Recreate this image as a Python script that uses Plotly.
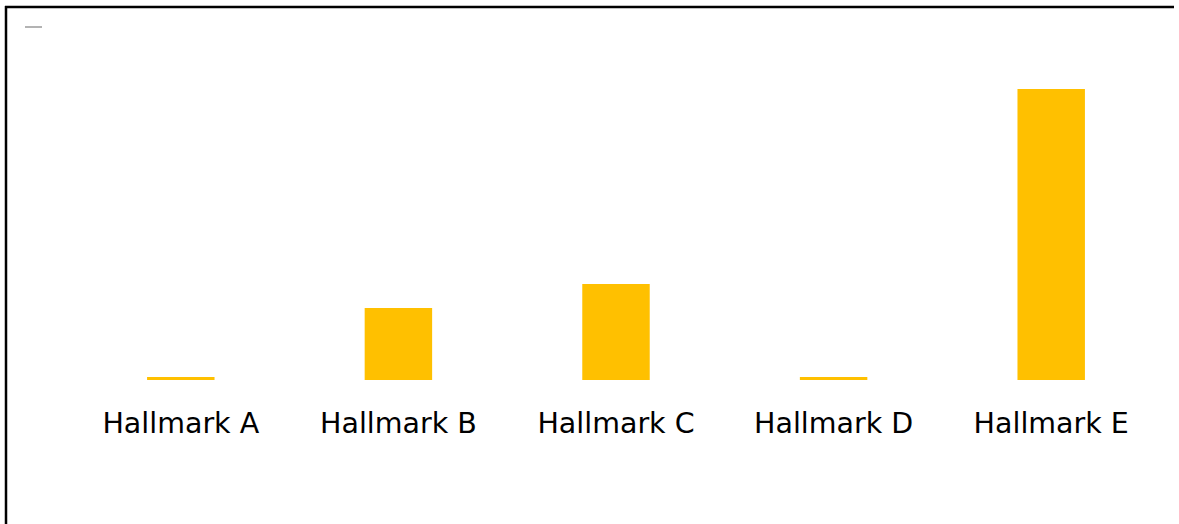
import plotly.graph_objects as go

categories = ["Hallmark A", "Hallmark B", "Hallmark C", "Hallmark D", "Hallmark E"]
values = [1, 24, 32, 1, 97]

W, H = 1179, 524
L, R, T, B = 72, 19, 80, 144
pw = W - L - R
ph = H - T - B

def px(x):
    return (x - L) / pw

def py(y):
    return (H - B - y) / ph

fig = go.Figure(go.Bar(
    x=categories, y=values,
    marker=dict(color="#FFC000", line=dict(width=0)),
    width=0.31,
    hoverinfo="skip",
))

fig.update_layout(
    width=W, height=H,
    margin=dict(l=L, r=R, t=T, b=B, autoexpand=False),
    paper_bgcolor="white", plot_bgcolor="white",
    showlegend=False,
    font=dict(family="DejaVu Sans", color="black"),
    xaxis=dict(showgrid=False, zeroline=False, showline=False, ticks="",
               tickfont=dict(size=28.5, color="black"), ticklabelstandoff=23),
    yaxis=dict(range=[0, 100], visible=False, showgrid=False, zeroline=False),
    shapes=[
        dict(type="line", xref="paper", yref="paper",
             x0=px(5), x1=px(1174), y0=py(7), y1=py(7),
             line=dict(color="black", width=2.5)),
        dict(type="line", xref="paper", yref="paper",
             x0=px(6), x1=px(6), y0=py(6), y1=py(524),
             line=dict(color="black", width=2.5)),
        dict(type="line", xref="paper", yref="paper",
             x0=px(25), x1=px(42), y0=py(27), y1=py(27),
             line=dict(color="#808080", width=1.2)),
    ],
)

fig.write_html(
    "out.html",
    config={"displayModeBar": False, "staticPlot": True},
    post_script="document.body.style.margin='0';document.body.style.overflow='hidden';",
)
